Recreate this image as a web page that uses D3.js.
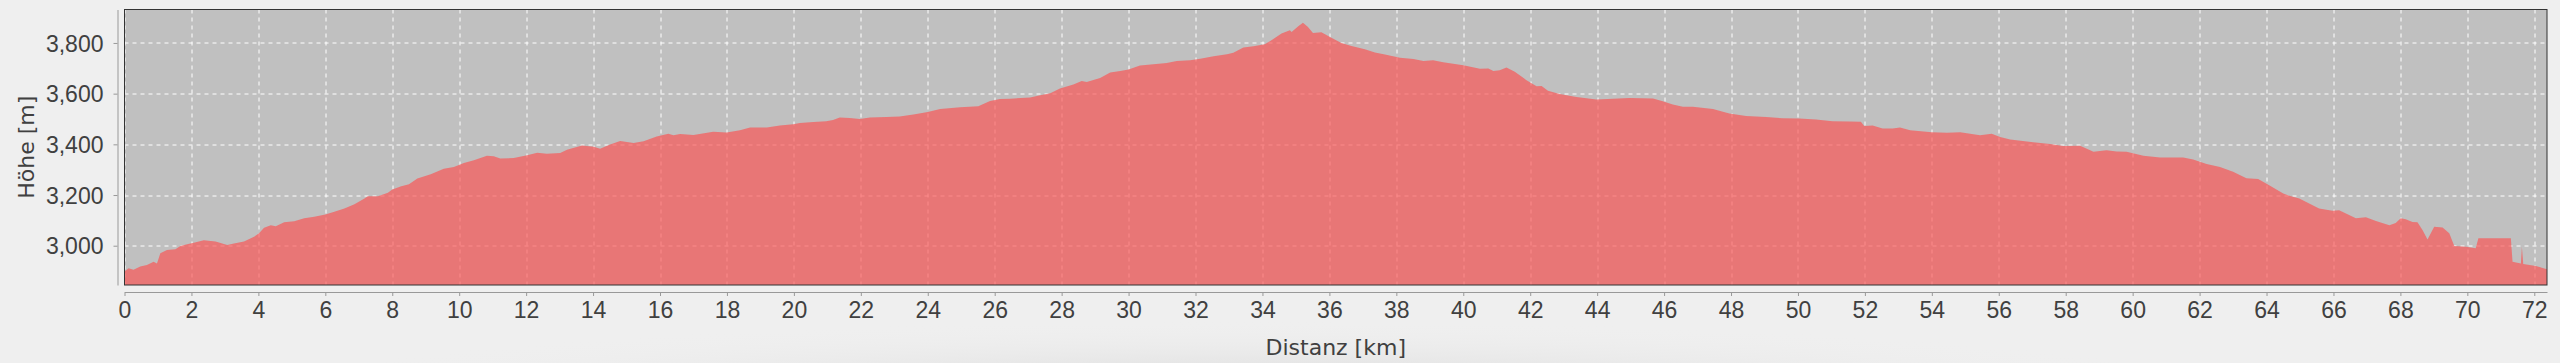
<!DOCTYPE html>
<html lang="de">
<head>
<meta charset="UTF-8"/>
<title>Höhenprofil</title>
<script src="https://cdn.jsdelivr.net/npm/d3@7"></script>
<style>
body { margin: 0; background: #efefef; }
svg { display: block; }
.tick text { font-family: "Liberation Sans", Arial, sans-serif; font-size: 23px; fill: #404040; }
.axis-title { font-family: "DejaVu Sans", sans-serif; font-size: 22px; fill: #404040; }
</style>
</head>
<body>
<svg id="chart"></svg>
<script>
// distance along the route [km]
var distKm = [0, 0.12, 0.27, 0.47, 0.67, 0.87, 0.97, 1.07, 1.27, 1.52, 1.67, 1.87, 2.07, 2.37, 2.72,
  3.07, 3.27, 3.57, 3.87, 4.02, 4.17, 4.37, 4.52, 4.77, 5.07, 5.37, 5.67, 6.0, 6.27, 6.57, 6.87,
  7.17, 7.27, 7.57, 7.87, 8.0, 8.27, 8.5, 8.75, 9.15, 9.54, 9.84, 10.14, 10.44, 10.83, 11.03, 11.23,
  11.63, 12.03, 12.33, 12.62, 13.02, 13.22, 13.67, 14.02, 14.21, 14.51, 14.81, 15.21, 15.51, 15.9,
  16.25, 16.4, 16.6, 17.0, 17.59, 17.99, 18.39, 18.69, 19.19, 19.58, 19.98, 20.18, 20.58, 20.97,
  21.17, 21.37, 21.67, 21.97, 22.27, 22.76, 23.16, 23.57, 24.0, 24.37, 24.97, 25.51, 25.86, 26.16,
  26.46, 27.06, 27.36, 27.66, 27.95, 28.35, 28.6, 28.75, 29.15, 29.45, 29.75, 30.0, 30.34, 30.74,
  31.14, 31.44, 31.84, 32.14, 32.54, 32.94, 33.13, 33.43, 33.73, 34.07, 34.27, 34.57, 34.82, 34.87,
  35.07, 35.21, 35.36, 35.51, 35.76, 36.06, 36.36, 36.66, 37.06, 37.36, 37.66, 38.11, 38.51, 38.81,
  39.1, 39.4, 40.0, 40.5, 40.75, 40.9, 41.09, 41.29, 41.54, 41.89, 42.19, 42.34, 42.53, 42.88,
  43.38, 43.98, 44.47, 44.97, 45.67, 45.96, 46.26, 46.56, 46.86, 47.46, 47.95, 48.45, 49.05, 49.54,
  50.04, 50.54, 51.03, 51.53, 51.88, 51.98, 52.23, 52.53, 52.83, 53.05, 53.35, 54.0, 54.45, 54.85,
  55.44, 55.79, 56.04, 56.34, 57.03, 57.53, 57.93, 58.43, 58.83, 59.22, 59.52, 59.82, 60.32, 60.82,
  61.51, 61.81, 62.21, 62.61, 63.0, 63.4, 63.75, 64.08, 64.5, 64.68, 64.98, 65.57, 65.97, 66.17,
  66.67, 66.97, 67.27, 67.67, 67.86, 68.01, 68.16, 68.36, 68.51, 68.66, 68.81, 69.01, 69.26, 69.46,
  69.61, 69.96, 70.25, 70.33, 71.3, 71.35, 71.6, 71.63, 71.67, 72.05, 72.38];

// elevation [m]
var elevM = [2898, 2911, 2905, 2918, 2924, 2937, 2930, 2970, 2983, 2986, 2999, 3006, 3012, 3022, 3017,
  3003, 3009, 3017, 3035, 3049, 3071, 3081, 3077, 3093, 3097, 3108, 3114, 3123, 3134, 3147, 3164,
  3186, 3195, 3195, 3209, 3222, 3235, 3243, 3265, 3282, 3304, 3311, 3326, 3337, 3355, 3353, 3344,
  3346, 3357, 3367, 3363, 3366, 3379, 3395, 3390, 3383, 3399, 3413, 3405, 3412, 3431,
  3442, 3436, 3441, 3437, 3450, 3447, 3456, 3466, 3466, 3474, 3479, 3484, 3488, 3491,
  3496, 3506, 3504, 3500, 3506, 3508, 3510, 3518, 3528, 3539, 3546, 3550, 3571, 3579,
  3580, 3585, 3594, 3602, 3620, 3636, 3650, 3646, 3662, 3683, 3689, 3695, 3711, 3716,
  3721, 3729, 3732, 3738, 3748, 3755, 3761, 3782, 3787, 3795, 3811, 3837, 3850, 3843,
  3866, 3880, 3863, 3839, 3842, 3821, 3800, 3788, 3775, 3762, 3754, 3742, 3737, 3729,
  3732, 3724, 3712, 3698, 3699, 3689, 3692, 3703, 3686, 3653, 3629, 3630, 3611, 3599,
  3587, 3577, 3580, 3583, 3581, 3570, 3557, 3548, 3548, 3539, 3522, 3512, 3508, 3503,
  3502, 3498, 3491, 3490, 3489, 3472, 3474, 3462, 3462, 3466, 3456, 3448, 3446, 3448,
  3436, 3442, 3429, 3419, 3408, 3401, 3393, 3394, 3371, 3377, 3372, 3371, 3355, 3348,
  3348, 3340, 3322, 3311, 3292, 3266, 3263, 3239, 3206, 3197, 3186, 3147, 3138, 3140,
  3108, 3112, 3098, 3081, 3090, 3108, 3104, 3094, 3093, 3062, 3025, 3075, 3072, 3049,
  2999, 2996, 2990, 3029, 3029, 2937, 2930, 2996, 2928, 2920, 2907];

var xTicks = d3.range(0, 73, 2);
var yTicks = [3000, 3200, 3400, 3600, 3800];
var xDomain = [0, 72.38];
var yDomain = [2845, 3932];

var width = 2560, height = 363;
var margin = {left: 124.5, right: 13, top: 9.5, bottom: 78};
var plotW = width - margin.left - margin.right,
    plotH = height - margin.top - margin.bottom;

var svg = d3.select("#chart")
    .attr("width", width)
    .attr("height", height);

// soft shadow at the bottom of the panel
var defs = svg.append("defs");
var grad = defs.append("radialGradient")
    .attr("id", "shade")
    .attr("cx", 0.5).attr("cy", 0.5).attr("r", 0.5);
grad.append("stop").attr("offset", "0%").attr("stop-color", "#d4d4d4");
grad.append("stop").attr("offset", "100%").attr("stop-color", "#efefef").attr("stop-opacity", 0);
svg.append("ellipse")
    .attr("cx", 1250).attr("cy", 395)
    .attr("rx", 1000).attr("ry", 75)
    .attr("fill", "url(#shade)");

var x = d3.scaleLinear().domain(xDomain).range([0, plotW]);
var y = d3.scaleLinear().domain(yDomain).range([plotH, 0]);

var g = svg.append("g")
    .attr("transform", "translate(" + margin.left + "," + margin.top + ")");

g.append("rect")
    .attr("width", plotW)
    .attr("height", plotH)
    .attr("fill", "#c0c0c0");

// grid
g.append("g")
    .selectAll("line")
    .data(xTicks)
    .enter().append("line")
    .attr("x1", function(d) { return Math.round(x(d)) + 0.5; })
    .attr("x2", function(d) { return Math.round(x(d)) + 0.5; })
    .attr("y1", 0).attr("y2", plotH)
    .attr("stroke", "#ffffff").attr("stroke-width", 1)
    .attr("stroke-dasharray", "4,4");
g.append("g")
    .selectAll("line")
    .data(yTicks)
    .enter().append("line")
    .attr("y1", function(d) { return Math.round(y(d)) + 0.5; })
    .attr("y2", function(d) { return Math.round(y(d)) + 0.5; })
    .attr("x1", 0).attr("x2", plotW)
    .attr("stroke", "#ffffff").attr("stroke-width", 1)
    .attr("stroke-dasharray", "4,4");

// elevation profile
var points = distKm.map(function(d, i) { return [d, elevM[i]]; });
var area = d3.area()
    .x(function(d) { return x(d[0]); })
    .y0(plotH)
    .y1(function(d) { return y(d[1]); });
g.append("path")
    .datum(points)
    .attr("d", area)
    .attr("fill", "#fb5353")
    .attr("fill-opacity", 0.68);

g.append("rect")
    .attr("width", plotW)
    .attr("height", plotH)
    .attr("fill", "none")
    .attr("stroke", "#333")
    .attr("stroke-width", 1);

// axes
var xAxis = svg.append("g")
    .attr("transform", "translate(" + margin.left + "," + (margin.top + plotH + 7) + ")")
    .call(d3.axisBottom(x).tickValues(xTicks).tickFormat(d3.format("d")).tickSize(4).tickSizeOuter(0).tickPadding(6));
var yAxis = svg.append("g")
    .attr("transform", "translate(" + (margin.left - 7) + "," + margin.top + ")")
    .call(d3.axisLeft(y).tickValues(yTicks).tickFormat(d3.format(",")).tickSize(4).tickSizeOuter(0).tickPadding(10));

[xAxis, yAxis].forEach(function(a) {
  a.select(".domain").attr("stroke", "#999");
  a.selectAll(".tick line").attr("stroke", "#999");
  a.selectAll(".tick text").attr("font-family", null).attr("font-size", null);
});
yAxis.selectAll(".tick text").attr("dy", "0.36em");

svg.append("text")
    .attr("class", "axis-title")
    .attr("x", margin.left + plotW / 2)
    .attr("y", 355)
    .attr("text-anchor", "middle")
    .text("Distanz [km]");

svg.append("text")
    .attr("class", "axis-title")
    .attr("transform", "translate(34," + (margin.top + plotH / 2) + ") rotate(-90)")
    .attr("text-anchor", "middle")
    .text("Höhe [m]");
</script>
</body>
</html>
